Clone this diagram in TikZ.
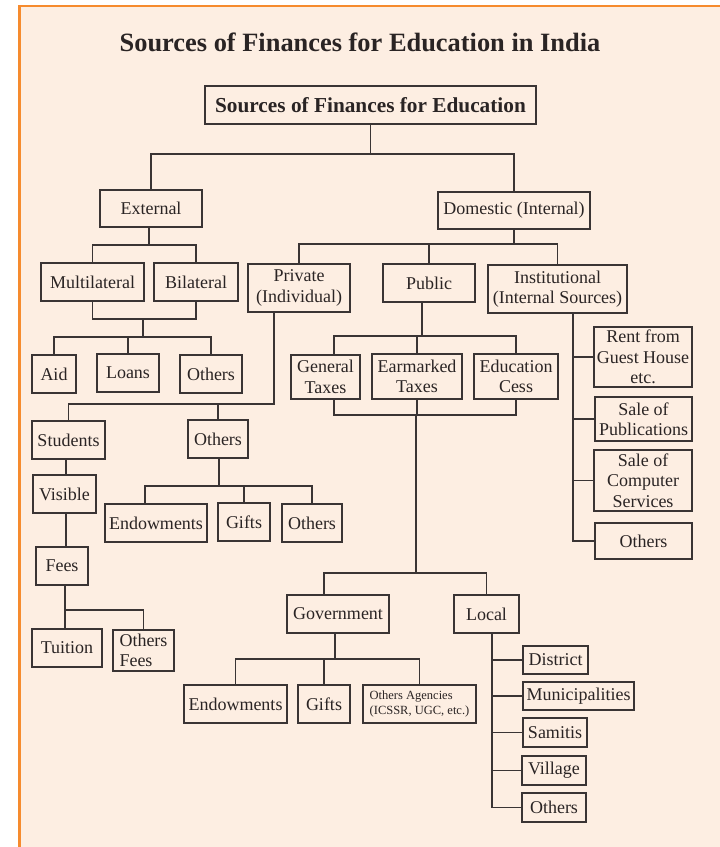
\documentclass[tikz,border=0pt]{standalone}
\usepackage{fontspec}
\setmainfont{Liberation Serif}
\definecolor{bgpeach}{HTML}{FDEEE2}
\definecolor{frameorange}{HTML}{F68B2E}
\definecolor{ink}{HTML}{3A3434}
\definecolor{textc}{HTML}{2A2424}
\tikzset{
  bx/.style={draw=ink, line width=1.6pt, inner sep=0pt, align=center, text=textc,
    font=\fontsize{18}{20.5}\selectfont},
  conn/.style={draw=ink, line width=1.6pt},
}
\newcommand\mybox[7][]{\node[bx,minimum width={#5-#3},minimum height={#6-#4},#1] (#2) at ({(#3+#5)/2},{(#4+#6)/2}) {#7};}
\begin{document}
\begin{tikzpicture}[x=1pt,y=-1pt]
\useasboundingbox (0,0) rectangle (720,847);
\fill[bgpeach] (19,6) rectangle (720,847);
\draw[frameorange, line width=2.6pt] (19.3,847) -- (19.3,6) -- (720,6);

\node[text=textc, font=\bfseries\fontsize{26.4}{30}\selectfont] (title) at (360,42) {Sources of Finances for Education in India};

\mybox[line width=2.8pt, font=\bfseries\fontsize{21.3}{24}\selectfont]{root}{205}{86}{536}{124}{Sources of Finances for Education}
\mybox{ext}{100}{190}{202}{227}{External}
\mybox{dom}{438}{192}{590}{229}{Domestic (Internal)}
\mybox{multi}{41}{263}{144}{301}{Multilateral}
\mybox{bil}{154}{263}{238}{301}{Bilateral}
\mybox{aid}{32}{355}{76}{393}{Aid}
\mybox{loans}{97}{354}{159}{392}{Loans}
\mybox{oth1}{180}{355}{242}{393}{Others}
\mybox{priv}{248}{264}{350}{312}{Private\\(Individual)}
\mybox{pub}{383}{264}{475}{302}{Public}
\mybox{inst}{488}{265}{627}{313}{Institutional\\(Internal Sources)}
\mybox{gen}{291}{355}{360}{399}{General\\Taxes}
\mybox{ear}{372}{354}{462}{399}{Earmarked\\Taxes}
\mybox{cess}{474}{354}{558}{399}{Education\\Cess}
\mybox{rent}{594}{327}{692}{387}{Rent from\\Guest House\\etc.}
\mybox{pubs}{595}{397}{692}{441}{Sale of\\Publications}
\mybox{comp}{594}{450}{692}{511}{Sale of\\Computer\\Services}
\mybox{oth2}{595}{523}{692}{559}{Others}
\mybox{stud}{32}{421}{105}{459}{Students}
\mybox{poth}{188}{420}{248}{458}{Others}
\mybox{vis}{33}{475}{96}{513}{Visible}
\mybox{fees}{36}{547}{88}{585}{Fees}
\mybox{tui}{32}{629}{102}{667}{Tuition}
\mybox[align=left]{ofees}{113}{630}{174}{671}{Others\\Fees}
\mybox{endw1}{105}{504}{207}{542}{Endowments}
\mybox{gift1}{218}{503}{270}{541}{Gifts}
\mybox{oth3}{282}{504}{342}{542}{Others}
\mybox{gov}{287}{595}{389}{633}{Government}
\mybox{loc}{454}{595}{519}{633}{Local}
\mybox{endw2}{184}{685}{287}{723}{Endowments}
\mybox{gift2}{298}{685}{350}{723}{Gifts}
\mybox[align=left, font=\fontsize{12.5}{15}\selectfont]{ag}{363}{685}{476}{723}{Others Agencies\\(ICSSR, UGC, etc.)}
\mybox{dist}{523}{646}{588}{674}{District}
\mybox{mun}{523}{682}{634}{710}{Municipalities}
\mybox{sam}{523}{718}{587}{747}{Samitis}
\mybox{vil}{522}{756}{586}{785}{Village}
\mybox{oth4}{522}{793}{586}{822}{Others}

% root
\coordinate (a1) at (368,154);
\draw[conn] (root.south) -- (root.south |- a1);
\draw[conn] (ext.north) |- (a1) -| (dom.north);
% external
\coordinate (a2) at (149,245);
\draw[conn] (ext.south -| a2) -- (a2);
\draw[conn] (multi.north) |- (a2) -| (bil.north);
\coordinate (a3) at (143,319);
\draw[conn] (multi.south) |- (a3) -| (bil.south);
\coordinate (a4) at (143,337);
\draw[conn] (a3) -- (a4);
\draw[conn] (aid.north) |- (a4) -| (oth1.north);
\draw[conn] (loans.north) -- (loans.north |- a4);
% domestic
\coordinate (b1) at (515,244);
\draw[conn] (dom.south) -- (dom.south |- b1);
\draw[conn] (priv.north) |- (b1) -| (inst.north);
\draw[conn] (pub.north) -- (pub.north |- b1);
% private
\coordinate (c1) at (274,404);
\draw[conn] (priv.south -| c1) -- (c1) -| (stud.north);
\draw[conn] (poth.north) -- (poth.north |- c1);
% public
\coordinate (d1) at (422,336);
\coordinate (xg) at (334,0);
\draw[conn] (pub.south -| d1) -- (d1);
\draw[conn] (gen.north -| xg) |- (d1) -| (cess.north);
\draw[conn] (ear.north) -- (ear.north |- d1);
\coordinate (e1) at (416,415);
\draw[conn] (gen.south -| xg) |- (e1) -| (cess.south);
\draw[conn] (ear.south) -- (ear.south |- e1);
\coordinate (e2) at (416,573);
\coordinate (xgov) at (324,0);
\draw[conn] (e1) -- (e2);
\draw[conn] (gov.north -| xgov) |- (e2) -| (loc.north);
% institutional
\coordinate (xi) at (573,0);
\draw[conn] (inst.south -| xi) |- (oth2.west);
\draw[conn] (rent.west) -- (rent.west -| xi);
\draw[conn] (pubs.west) -- (pubs.west -| xi);
\draw[conn] (comp.west) -- (comp.west -| xi);
% students chain
\coordinate (xs) at (66,0);
\draw[conn] (stud.south -| xs) -- (vis.north -| xs);
\draw[conn] (vis.south -| xs) -- (fees.north -| xs);
\coordinate (f1) at (65,610);
\draw[conn] (fees.south -| f1) -- (tui.north -| f1);
\draw[conn] (f1) -| (ofees.north);
% others (private)
\coordinate (g1) at (219,486);
\coordinate (xe1) at (145,0);
\draw[conn] (poth.south -| g1) -- (g1);
\draw[conn] (endw1.north -| xe1) |- (g1) -| (oth3.north);
\draw[conn] (gift1.north) -- (gift1.north |- g1);
% government
\coordinate (h1) at (335,659);
\draw[conn] (gov.south -| h1) -- (h1);
\draw[conn] (endw2.north) |- (h1) -| (ag.north);
\draw[conn] (gift2.north) -- (gift2.north |- h1);
% local
\coordinate (xl) at (492,0);
\draw[conn] (loc.south -| xl) |- (oth4.west);
\draw[conn] (dist.west) -- (dist.west -| xl);
\draw[conn] (mun.west) -- (mun.west -| xl);
\draw[conn] (sam.west) -- (sam.west -| xl);
\draw[conn] (vil.west) -- (vil.west -| xl);
\end{tikzpicture}
\end{document}
